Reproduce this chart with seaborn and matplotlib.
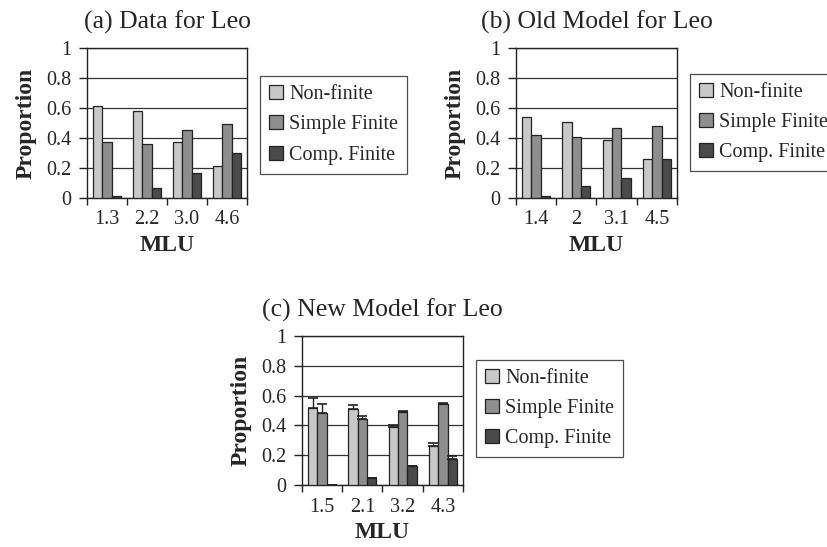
import numpy as np
import pandas as pd
import matplotlib
matplotlib.use("Agg")
import matplotlib.pyplot as plt
import seaborn as sns

# ---------------------------------------------------------------------------
# data
series = ["Non-finite", "Simple Finite", "Comp. Finite"]

mlu_a = ["1.3", "2.2", "3.0", "4.6"]
nonfin_a = [0.613, 0.582, 0.376, 0.210]
simple_a = [0.376, 0.360, 0.452, 0.490]
comp_a = [0.016, 0.069, 0.168, 0.298]

mlu_b = ["1.4", "2", "3.1", "4.5"]
nonfin_b = [0.541, 0.508, 0.385, 0.257]
simple_b = [0.418, 0.409, 0.468, 0.483]
comp_b = [0.016, 0.080, 0.134, 0.257]

mlu_c = ["1.5", "2.1", "3.2", "4.3"]
nonfin_c = [0.518, 0.511, 0.388, 0.265]
simple_c = [0.484, 0.446, 0.489, 0.543]
comp_c = [0.000, 0.047, 0.126, 0.177]
# upper error (added on top of bar)
nonfin_c_err = [0.067, 0.025, 0.015, 0.018]
simple_c_err = [0.061, 0.016, 0.007, 0.007]
comp_c_err = [0.000, 0.002, 0.003, 0.018]

colors = ["#c8c8c8", "#8e8e8e", "#4a4a4a"]


def long_frame(mlu, nf, sf, cf):
    rows = []
    for name, vals in zip(series, [nf, sf, cf]):
        for m, v in zip(mlu, vals):
            rows.append({"MLU": m, "series": name, "Proportion": v})
    return pd.DataFrame(rows)


# ---------------------------------------------------------------------------
sns.set_theme(style="white")
plt.rcParams["font.family"] = ["Liberation Serif", "DejaVu Serif"]

fig = plt.figure(figsize=(8.28, 5.47), dpi=100)
W, H = 828, 547


def add_axes(left, top, right, bottom):
    return fig.add_axes([left / W, 1 - bottom / H, (right - left) / W, (bottom - top) / H])


def draw_panel(ax, mlu, nf, sf, cf, title, leg_y, errs=None):
    df = long_frame(mlu, nf, sf, cf)
    sns.barplot(data=df, x="MLU", y="Proportion", hue="series", order=mlu,
                hue_order=series, palette=colors, errorbar=None, width=0.7,
                edgecolor="#222222", linewidth=0.9, saturation=1, ax=ax, zorder=3)

    if errs is not None:
        for cont, err in zip(ax.containers, errs):
            xs = [p.get_x() + p.get_width() / 2 for p in cont.patches]
            hs = [p.get_height() for p in cont.patches]
            ax.errorbar(xs, hs, yerr=[np.zeros(len(err)), err], fmt="none",
                        ecolor="#222222", elinewidth=1.0, capsize=3.5, capthick=1.2,
                        zorder=4)

    ax.set_ylim(0, 1)
    ax.set_xlim(-0.5, len(mlu) - 0.5)
    ax.set_yticks([0, 0.2, 0.4, 0.6, 0.8, 1.0])
    ax.set_yticklabels(["0", "0.2", "0.4", "0.6", "0.8", "1"])
    ax.set_xticks(np.arange(-0.5, len(mlu), 1.0), minor=True)
    ax.yaxis.grid(True, color="#333333", linewidth=0.9, zorder=0)
    ax.set_axisbelow(True)
    ax.tick_params(axis="x", which="major", length=0, labelsize=14.5, pad=9)
    ax.tick_params(axis="x", which="minor", length=5, width=1, color="#222222",
                   direction="out", bottom=True)
    ax.tick_params(axis="y", length=6, width=1, color="#222222", direction="out",
                   left=True, labelsize=14.5, pad=5)
    for sp in ax.spines.values():
        sp.set_color("#222222")
        sp.set_linewidth(1.0)

    ax.set_xlabel("MLU", fontsize=17, fontweight="bold", labelpad=4)
    ax.set_ylabel("Proportion", fontsize=17, fontweight="bold", labelpad=7)
    ax.set_title(title, fontsize=18.5, pad=14)

    handles, labels = ax.get_legend_handles_labels()
    leg = ax.legend(handles, labels, loc="center left", bbox_to_anchor=(1.08, leg_y),
                    fontsize=14.5, frameon=True, fancybox=False, handlelength=0.7,
                    handleheight=0.7, handletextpad=0.3, borderpad=0.45,
                    labelspacing=0.55, borderaxespad=0)
    leg.get_frame().set_edgecolor("#222222")
    leg.get_frame().set_linewidth(0.9)


ax_a = add_axes(87, 48, 247, 198)
draw_panel(ax_a, mlu_a, nonfin_a, simple_a, comp_a, "(a) Data for Leo", 0.487)

ax_b = add_axes(516, 48, 677, 198)
draw_panel(ax_b, mlu_b, nonfin_b, simple_b, comp_b, "(b) Old Model for Leo", 0.503)

ax_c = add_axes(302, 336, 463, 485)
draw_panel(ax_c, mlu_c, nonfin_c, simple_c, comp_c, "(c) New Model for Leo", 0.513,
           errs=[nonfin_c_err, simple_c_err, comp_c_err])

fig.savefig("out.png", dpi=100)
